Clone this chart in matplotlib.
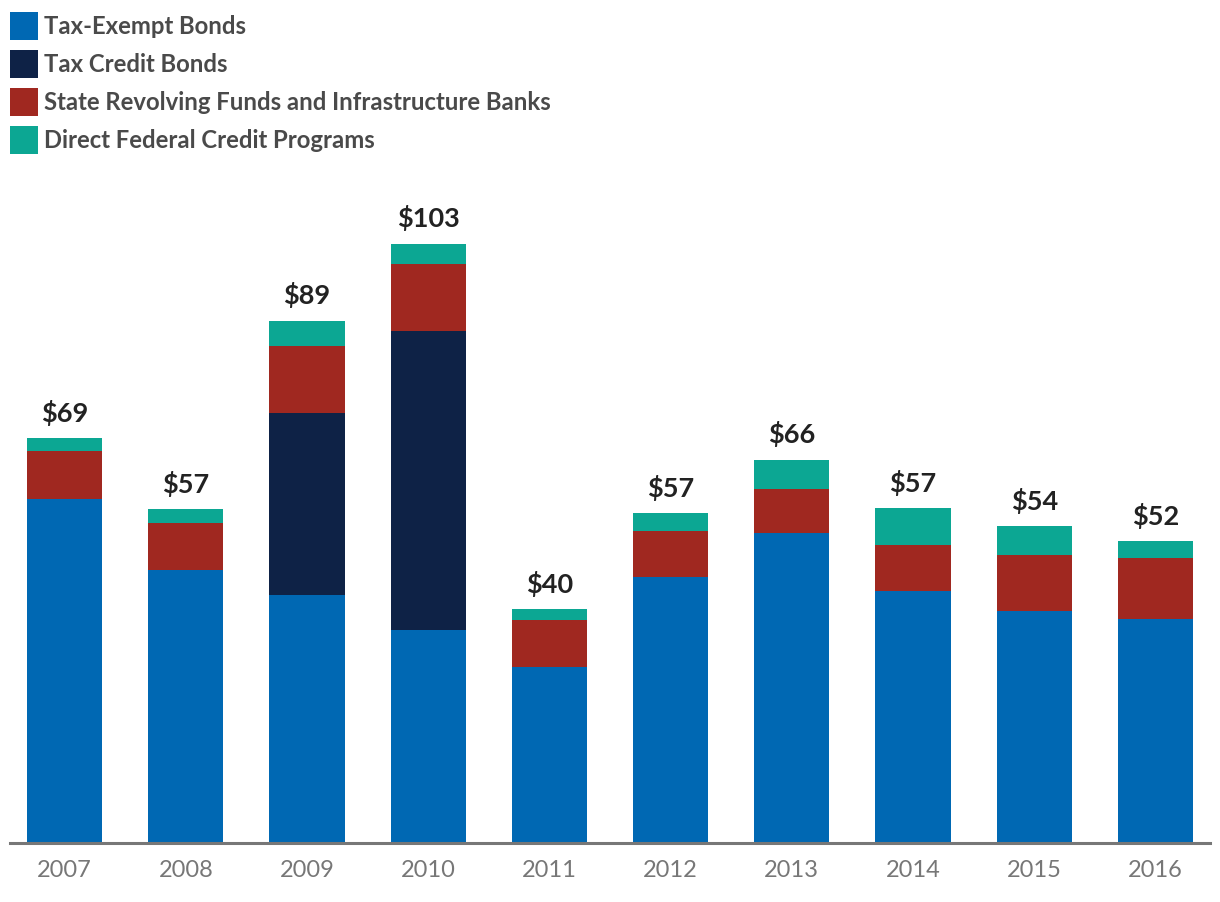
import matplotlib
matplotlib.use("Agg")
import matplotlib.pyplot as plt
import numpy as np
from matplotlib.patches import Rectangle

years = ["2007", "2008", "2009", "2010", "2011", "2012", "2013", "2014", "2015", "2016"]
tax_exempt = [59.2, 46.9, 42.6, 36.6, 30.3, 45.7, 53.3, 43.3, 39.9, 38.5]
tax_credit = [0, 0, 31.3, 51.4, 0, 0, 0, 0, 0, 0]
srf_banks = [8.2, 8.1, 11.6, 11.6, 8.0, 8.0, 7.6, 7.9, 9.6, 10.5]
federal = [2.2, 2.4, 4.3, 3.4, 1.9, 3.0, 5.0, 6.4, 5.0, 2.9]
totals = ["$69", "$57", "$89", "$103", "$40", "$57", "$66", "$57", "$54", "$52"]

series_names = ["Tax-Exempt Bonds", "Tax Credit Bonds",
                "State Revolving Funds and Infrastructure Banks",
                "Direct Federal Credit Programs"]
colors = ["#0068b3", "#0e2246", "#a02820", "#0ca793"]

plt.rcParams["font.family"] = ["Lato", "DejaVu Sans"]

fig = plt.figure(figsize=(12.2, 9.02), dpi=100)
ax = fig.add_axes([10 / 1220, 59 / 902, 1200 / 1220, 663 / 902])

x = np.arange(len(years))
bottom = np.zeros(len(years))
for vals, c in zip([tax_exempt, tax_credit, srf_banks, federal], colors):
    vals = np.array(vals)
    ax.bar(x, vals, width=0.62, bottom=bottom, color=c, linewidth=0)
    bottom += vals

for xi, top, lab in zip(x, bottom, totals):
    ax.annotate(lab, (xi, top), xytext=(0, 9), textcoords="offset points",
                ha="center", va="bottom", fontsize=19.5, fontweight="bold", color="#222222")

ax.set_xlim(-0.45, 9.45)
ax.set_ylim(0, 114)
ax.set_xticks(x)
ax.set_xticklabels(years, fontsize=17, color="#777777")
ax.tick_params(axis="x", length=0, pad=12)
ax.set_yticks([])
for s in ["top", "right", "left"]:
    ax.spines[s].set_visible(False)
ax.spines["bottom"].set_color("#777777")
ax.spines["bottom"].set_linewidth(2.2)

# legend drawn by hand
for i, (name, c) in enumerate(zip(series_names, colors)):
    yc = 26 + i * 38
    fig.patches.append(Rectangle((10 / 1220, 1 - (yc + 14) / 902), 28 / 1220, 28 / 902,
                                 transform=fig.transFigure, color=c, linewidth=0))
    fig.text(44 / 1220, 1 - (yc + 1) / 902, name, fontsize=17.2, fontweight="bold",
             color="#4a4a4a", va="center", ha="left")

fig.savefig("out.png", dpi=100)
